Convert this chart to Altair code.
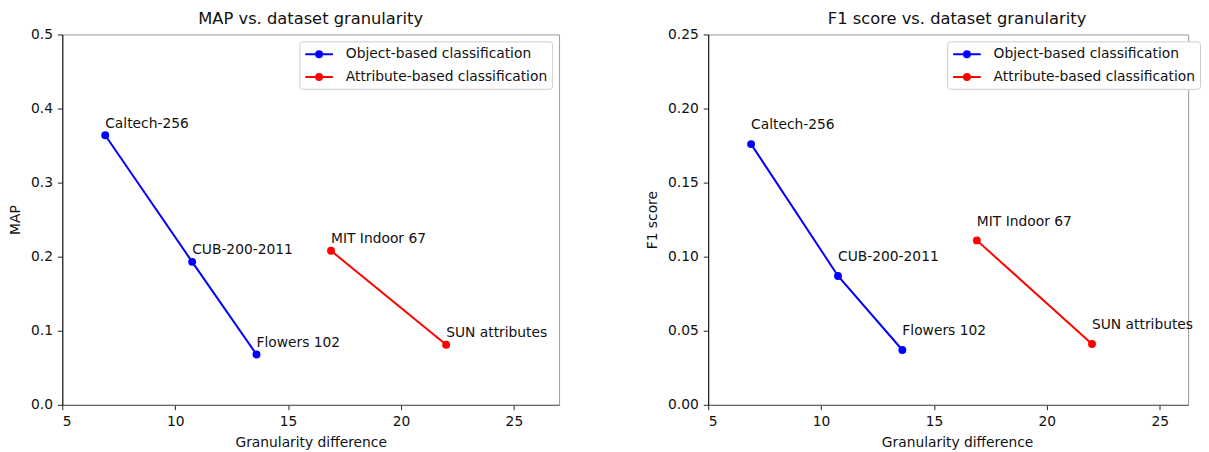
import altair as alt
import pandas as pd

datasets = ["Caltech-256", "CUB-200-2011", "Flowers 102", "MIT Indoor 67", "SUN attributes"]
series = ["Object-based classification"] * 3 + ["Attribute-based classification"] * 2
granularity = [6.9, 10.75, 13.6, 16.9, 22.0]
map_values = [0.364, 0.193, 0.068, 0.208, 0.081]
f1_values = [0.176, 0.087, 0.037, 0.111, 0.041]
series_order = ["Object-based classification", "Attribute-based classification"]
series_colors = ["#0000ff", "#ff0000"]

df = pd.DataFrame({
    "dataset": datasets,
    "series": series,
    "g": granularity,
    "MAP": map_values,
    "F1": f1_values,
})

FONT = "DejaVu Sans"
FS = 14

# legend symbol: line with a filled-looking dot (concentric circles)
cx = 0.875


def circ(r):
    return f"M{cx + r},0A{r},{r} 0 1,1 {cx - r},0A{r},{r} 0 1,1 {cx + r},0"


legend_path = "M-0.875,0L2.625,0" + "".join(circ(r) for r in [0.06, 0.19, 0.31, 0.375])


def panel(field, title, ytitle, ymax, yticks, width, xmax, legend_x, title_dx, xtitle_x):
    base = alt.Chart(df).transform_calculate(ly=f"datum['{field}'] + 0.01")
    xaxis_kw = dict(values=[5, 10, 15, 20, 25], title="Granularity difference", format="d")
    if xtitle_x is not None:
        xaxis_kw["titleX"] = xtitle_x
    x = alt.X("g:Q", scale=alt.Scale(domain=[5, xmax], nice=False, zero=False),
              axis=alt.Axis(**xaxis_kw))
    y = alt.Y(f"{field}:Q", scale=alt.Scale(domain=[0, ymax], nice=False),
              axis=alt.Axis(values=yticks, title=ytitle,
                            format=".1f" if ymax == 0.5 else ".2f"))
    color = alt.Color("series:N", scale=alt.Scale(domain=series_order, range=series_colors),
                      sort=series_order,
                      legend=alt.Legend(title=None, orient="none", legendX=legend_x, legendY=7,
                                        symbolType=legend_path, symbolSize=256,
                                        symbolStrokeWidth=2, labelFontSize=FS,
                                        labelFont=FONT, labelColor="#111", labelLimit=400,
                                        strokeColor="#cccccc", fillColor="white",
                                        padding=4, cornerRadius=3, rowPadding=6,
                                        labelOffset=25))
    line = base.mark_line(strokeWidth=2).encode(x=x, y=y, color=color, detail="series:N")
    pts = base.mark_circle(size=64, opacity=1).encode(
        x="g:Q", y=f"{field}:Q",
        color=alt.Color("series:N", scale=alt.Scale(domain=series_order, range=series_colors),
                        legend=None))
    labels = base.mark_text(align="left", baseline="alphabetic", font=FONT,
                            fontSize=FS, color="#111").encode(
        x="g:Q", y="ly:Q", text="dataset:N")
    return alt.layer(line, pts, labels).properties(
        width=width, height=375,
        title=alt.TitleParams(title, font=FONT, fontSize=16.5, fontWeight="normal",
                              color="#111", offset=0, dx=title_dx))


left = panel("MAP", "MAP vs. dataset granularity", "MAP", 0.5,
             [0.0, 0.1, 0.2, 0.3, 0.4, 0.5], 503, 27, 240, 0, None)
right = panel("F1", "F1 score vs. dataset granularity", "F1 score", 0.25,
              [0.0, 0.05, 0.1, 0.15, 0.2, 0.25], 486, 26.26, 242, 9, 252)

chart = alt.hconcat(left, right, spacing=86).resolve_scale(
    color="independent"
).resolve_legend(color="independent").properties(
    padding={"left": 0, "top": 0, "right": 0, "bottom": 0}
).configure_view(stroke="#999999", strokeWidth=1).configure_axis(
    labelFont=FONT, titleFont=FONT, labelFontSize=FS, titleFontSize=FS,
    titleFontWeight="normal", labelColor="#111", titleColor="#111",
    grid=False, tickColor="#222", tickSize=5, labelPadding=5, titlePadding=8
).configure_axisY(domainColor="#000000").configure_axisX(
    domainColor="#555555", labelPadding=5, titlePadding=7)

chart.save("out.html", embed_options={"renderer": "svg", "actions": False})
